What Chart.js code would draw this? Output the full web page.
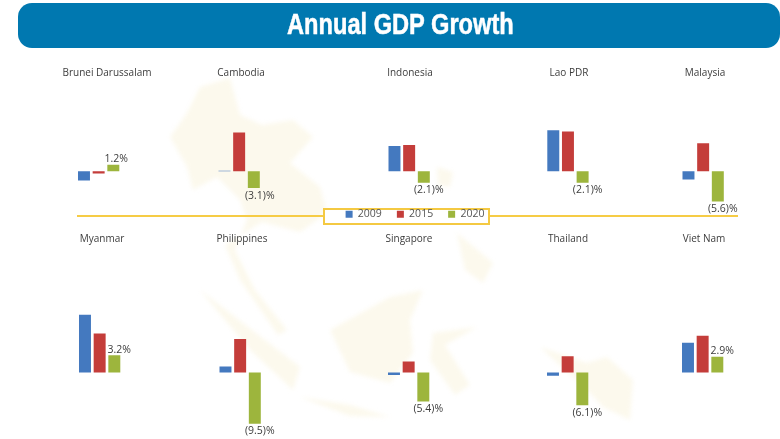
<!DOCTYPE html>
<html>
<head>
<meta charset="utf-8">
<script src="https://cdn.jsdelivr.net/npm/chart.js@4"></script>
<style>
html,body{margin:0;padding:0;background:#fff;width:780px;height:439px;overflow:hidden}
#map{position:absolute;left:0;top:0;filter:blur(2px)}
#banner{position:absolute;left:18px;top:3px;width:762px;height:45px;background:#0078b0;border-radius:14px;color:#fff;
  font:bold 29px "Liberation Sans",sans-serif;line-height:43px}
#banner span{position:absolute;left:269px;top:0;white-space:nowrap;transform:scaleX(0.815);transform-origin:left center;-webkit-text-stroke:0.5px #fff}
.rule{position:absolute;height:2px;top:215px;background:#f6cc45}
#legendBox{position:absolute;left:323px;top:208px;width:163px;height:13px;border:2px solid #f4c942;background:#fff}
canvas{position:absolute}
</style>
</head>
<body>
<svg id="map" width="780" height="439" fill="#fcf9ed">
  <path d="M230 78L200 87L187 113L170 137L187 167L193 190L217 177L240 200L247 220L235 250L255 290L287 330L278 335L240 280L225 245L262 222L300 232L327 213L320 187L290 163L313 137L293 120L262 125L240 115Z"/>
  <path d="M200 290L300 367L293 390L250 350Z"/>
  <path d="M300 397L350 405L390 417L350 416Z"/>
  <path d="M330 330L390 297L423 290L410 320L413 353L390 383L350 372Z"/>
  <path d="M433 333L477 327L445 345L470 385L455 395L430 360Z"/>
  <path d="M457 233L493 263L483 283L465 270Z"/>
  <path d="M437 167L453 172L450 187L438 185Z"/>
  <path d="M540 347L587 363L607 357L633 380L630 420L603 407L587 390Z"/>
</svg>
<div id="banner"><span>Annual GDP Growth</span></div>
<div class="rule" style="left:77px;width:247px"></div>
<div class="rule" style="left:489px;width:249px"></div>
<div id="legendBox"></div>
<canvas id="legend" width="200" height="100" style="left:315px;top:194px"></canvas>
<script>
const countries = ["Brunei Darussalam","Cambodia","Indonesia","Lao PDR","Malaysia","Myanmar","Philippines","Singapore","Thailand","Viet Nam"];
const years = ["2009","2015","2020"];
const gdp2009 = [-1.7,0.1,4.7,7.6,-1.5,10.7,1.1,-0.5,-0.6,5.5];
const gdp2015 = [-0.4,7.2,4.9,7.4,5.2,7.2,6.2,2.0,3.0,6.8];
const gdp2020 = [1.2,-3.1,-2.1,-2.1,-5.6,3.2,-9.5,-5.4,-6.1,2.9];
const colors = ["#4479bf","#c43d3a","#9db53d"];

// layout
const titleCenters = [107,241,409.5,568.7,704.5,102,241.5,409,568,704];
const barLefts = [78,218.5,388,547,682,79,219,388,547,682];
const rows = [
  {top:62,height:153,min:-8.1,max:16.9},
  {top:228,height:211,min:-12.35,max:23.4}
];
const labelDx = [3,6,5,5,5,5,5,5,5,5];
const FONT = '"Open Sans",sans-serif';
const CW = 140, PLOT = 44, PLOT_TOP = 18.2, TITLE_Y = 11;

const panelText = {
  id:'panelText',
  afterDatasetsDraw(chart, args, opts){
    const bar = chart.getDatasetMeta(2).data[0];
    const v = chart.data.datasets[2].data[0];
    const c = chart.ctx;
    c.save();
    c.textAlign = 'center';
    c.textBaseline = 'middle';
    c.font = '10.5px '+FONT;
    c.fillStyle = '#3c3c3c';
    const txt = v < 0 ? '('+Math.abs(v).toFixed(1)+')%' : v.toFixed(1)+'%';
    c.fillText(txt, bar.x + opts.dx, bar.y + (v < 0 ? 7.5 : -5.5));
    c.font = '10px '+FONT;
    c.fillText(chart.data.labels[0], chart.width/2, TITLE_Y);
    c.restore();
  }
};

countries.forEach((name,i)=>{
  const row = rows[i<5?0:1];
  const cv = document.createElement('canvas');
  cv.width = CW; cv.height = row.height;
  const left = titleCenters[i]-CW/2;
  cv.style.left = left+'px';
  cv.style.top = row.top+'px';
  document.body.appendChild(cv);
  const pl = barLefts[i]-1.35-left;
  new Chart(cv,{
    type:'bar',
    data:{labels:[name],datasets:[
      {label:years[0],data:[gdp2009[i]],backgroundColor:colors[0]},
      {label:years[1],data:[gdp2015[i]],backgroundColor:colors[1]},
      {label:years[2],data:[gdp2020[i]],backgroundColor:colors[2]}
    ]},
    plugins:[panelText],
    options:{
      responsive:false,animation:false,
      barPercentage:0.816,categoryPercentage:1,
      layout:{padding:{left:pl,right:CW-pl-PLOT,top:PLOT_TOP,bottom:0}},
      scales:{
        x:{display:false},
        y:{display:false,min:row.min,max:row.max}
      },
      plugins:{
        legend:{display:false},tooltip:{enabled:false},title:{display:false},
        panelText:{dx:labelDx[i]}
      }
    }
  });
});

new Chart(document.getElementById('legend'),{
  type:'bar',
  data:{labels:[],datasets:years.map((y,k)=>({label:y,data:[],backgroundColor:colors[k]}))},
  options:{
    responsive:false,animation:false,
    scales:{x:{display:false},y:{display:false}},
    plugins:{tooltip:{enabled:false},
      legend:{display:true,position:'top',onClick:null,
        labels:{boxWidth:7,boxHeight:7,padding:15,color:'#555',font:{family:FONT,size:10.5}}}}
  }
});
</script>
</body>
</html>
